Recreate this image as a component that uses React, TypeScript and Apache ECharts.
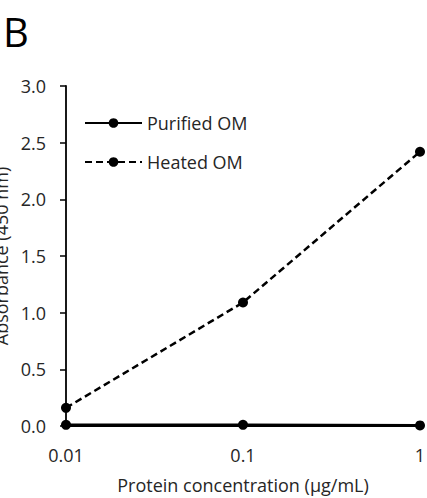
import React, { useEffect, useRef } from "react";
import * as echarts from "echarts";

const concentrations = [0.01, 0.1, 1];
const purifiedOM = [0.01, 0.01, 0.005];
const heatedOM = [0.16, 1.09, 2.42];
const seriesNames = ["Purified OM", "Heated OM"];
const xTitle = "Protein concentration (µg/mL)";
const yTitle = "Absorbance (450 nm)";
const panelLabel = "B";

const FONT = "'Open Sans', 'Noto Sans', sans-serif";
const TXT = "#262626";

export default function App() {
  const ref = useRef<HTMLDivElement>(null);
  useEffect(() => {
    if (!ref.current) return;
    const chart = echarts.init(ref.current, null, { renderer: "svg" });
    chart.setOption({
      animation: false,
      backgroundColor: "#ffffff",
      textStyle: { fontFamily: FONT },
      graphic: [
        {
          type: "text",
          left: 3,
          top: 11,
          style: { text: panelLabel, fontSize: 40, fontFamily: FONT, fill: "#000" },
        },
      ],
      legend: {
        left: 79,
        top: 107,
        padding: 5,
        orient: "vertical",
        itemGap: 17,
        itemWidth: 57,
        itemHeight: 12,
        textStyle: { fontSize: 18, color: TXT, fontFamily: FONT, lineHeight: 22 },
        data: seriesNames,
      },
      grid: { left: 66, top: 86, right: 7, bottom: 72, containLabel: false, outerBoundsMode: "none" },
      xAxis: {
        type: "log",
        logBase: 10,
        min: 0.01,
        max: 1,
        name: xTitle,
        nameLocation: "middle",
        nameGap: 50,
        nameTextStyle: { fontSize: 18, color: TXT, fontFamily: FONT },
        axisLine: { show: true, lineStyle: { color: "#000", width: 1.8 } },
        axisTick: { show: false },
        splitLine: { show: false },
        minorTick: { show: false },
        axisLabel: {
          fontSize: 18,
          color: TXT,
          margin: 20,
          fontFamily: FONT,
          formatter: (v: number) => String(Number(v.toPrecision(3))),
        },
      },
      yAxis: {
        type: "value",
        min: 0,
        max: 3,
        interval: 0.5,
        name: yTitle,
        nameLocation: "middle",
        nameGap: 52,
        nameTextStyle: { fontSize: 18, color: TXT, fontFamily: FONT },
        axisLine: { show: true, lineStyle: { color: "#000", width: 1.8 } },
        axisTick: { show: true, inside: false, length: 6, lineStyle: { color: "#000", width: 1.5 } },
        splitLine: { show: false },
        axisLabel: {
          fontSize: 18,
          color: TXT,
          margin: 20,
          fontFamily: FONT,
          formatter: (v: number) => v.toFixed(1),
        },
      },
      series: [
        {
          name: seriesNames[0],
          type: "line",
          data: concentrations.map((c, i) => [c, purifiedOM[i]]),
          symbol: "circle",
          symbolSize: 10,
          itemStyle: { color: "#000" },
          lineStyle: { color: "#000", width: 2.8, type: "solid" },
          z: 3,
        },
        {
          name: seriesNames[1],
          type: "line",
          data: concentrations.map((c, i) => [c, heatedOM[i]]),
          symbol: "circle",
          symbolSize: 10,
          itemStyle: { color: "#000" },
          lineStyle: { color: "#000", width: 2.5, type: [7, 4] },
          z: 2,
        },
      ],
    });
    return () => chart.dispose();
  }, []);
  return <div ref={ref} style={{ width: 427, height: 498, position: "absolute", left: 0, top: 0 }} />;
}
